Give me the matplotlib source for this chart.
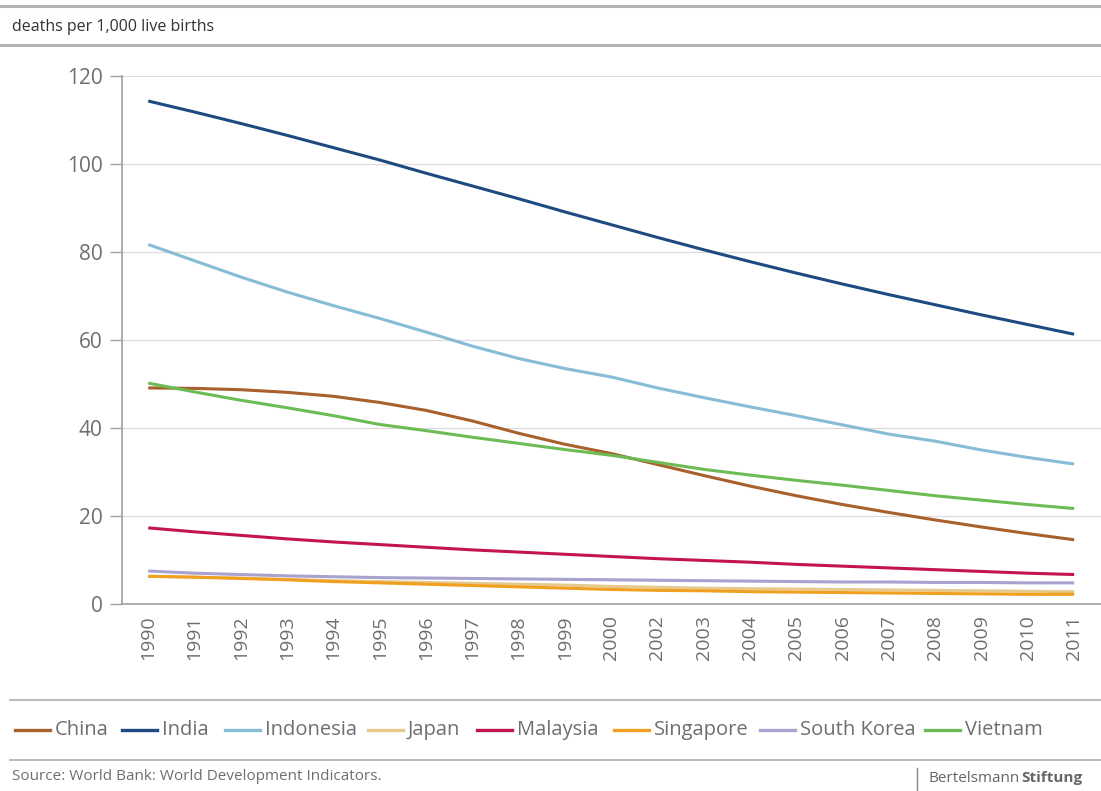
import matplotlib
matplotlib.use("Agg")
import matplotlib.pyplot as plt
from matplotlib.lines import Line2D

plt.rcParams['font.family'] = ['Open Sans', 'DejaVu Sans']

years = ["1990", "1991", "1992", "1993", "1994", "1995", "1996", "1997", "1998", "1999",
         "2000", "2002", "2003", "2004", "2005", "2006", "2007", "2008", "2009", "2010", "2011"]

china = [49.1, 49.0, 48.7, 48.1, 47.2, 45.8, 44.0, 41.6, 38.8, 36.3, 34.2,
         31.7, 29.2, 26.8, 24.6, 22.6, 20.8, 19.1, 17.5, 16.0, 14.6]
india = [114.3, 111.8, 109.2, 106.5, 103.7, 100.9, 97.9, 95.0, 92.1, 89.1, 86.2,
         83.3, 80.5, 77.8, 75.2, 72.7, 70.3, 68.0, 65.7, 63.5, 61.3]
indonesia = [81.7, 78.0, 74.3, 70.9, 67.8, 64.9, 61.8, 58.6, 55.8, 53.5, 51.6,
             49.1, 46.9, 44.8, 42.8, 40.7, 38.6, 37.0, 35.0, 33.3, 31.8]
japan = [6.3, 6.1, 5.9, 5.6, 5.3, 5.1, 4.9, 4.7, 4.5, 4.3, 4.0,
         3.8, 3.6, 3.5, 3.4, 3.3, 3.2, 3.1, 3.0, 2.9, 2.8]
malaysia = [17.3, 16.4, 15.6, 14.8, 14.1, 13.5, 12.9, 12.3, 11.8, 11.3, 10.8,
            10.3, 9.9, 9.5, 9.0, 8.6, 8.2, 7.8, 7.4, 7.0, 6.7]
singapore = [6.3, 6.1, 5.8, 5.5, 5.1, 4.8, 4.5, 4.2, 3.9, 3.6, 3.3,
             3.1, 3.0, 2.8, 2.7, 2.6, 2.5, 2.4, 2.3, 2.2, 2.2]
south_korea = [7.5, 7.0, 6.7, 6.4, 6.2, 6.0, 5.9, 5.8, 5.7, 5.6, 5.5,
               5.4, 5.3, 5.2, 5.1, 5.0, 5.0, 4.9, 4.9, 4.8, 4.8]
vietnam = [50.2, 48.2, 46.3, 44.6, 42.8, 40.8, 39.4, 37.9, 36.5, 35.1, 33.8,
           32.2, 30.6, 29.3, 28.1, 27.0, 25.8, 24.6, 23.6, 22.6, 21.7]

names = ["China", "India", "Indonesia", "Japan", "Malaysia", "Singapore", "South Korea", "Vietnam"]
series = [china, india, indonesia, japan, malaysia, singapore, south_korea, vietnam]
colors = ["#a8602c", "#1d4a80", "#86bcd6", "#e6c98c", "#c2144f", "#f0a01e", "#a8a2cf", "#6dbb55"]

y_ticks = [0, 20, 40, 60, 80, 100, 120]

grey_text = "#6e6e6e"
rule = "#a0a0a0"

fig = plt.figure(figsize=(11.01, 7.91), dpi=100)
ax = fig.add_axes([0.111, 0.2364, 0.889, 0.6676])

x = list(range(len(years)))
# draw the light lines underneath so the darker ones stay visible
order = [3, 5, 6, 4, 0, 7, 2, 1]
for i in order:
    ax.plot(x, series[i], color=colors[i], lw=2.2, solid_capstyle='butt', zorder=3)

ax.set_xlim(-0.562, len(years) - 1 + 0.58)
ax.set_ylim(0, 120)
ax.set_yticks(y_ticks)
ax.set_yticklabels([str(v) for v in y_ticks], fontsize=15, color=grey_text)
ax.set_xticks(x)
ax.set_xticklabels(years, rotation=90, fontsize=14, color=grey_text)
ax.tick_params(axis='x', length=0, pad=8)
ax.tick_params(axis='y', length=9, width=1, color=rule, pad=5)
ax.grid(axis='y', color="#dcdcdc", lw=0.9, zorder=0)
for side in ["top", "right"]:
    ax.spines[side].set_visible(False)
ax.spines["left"].set_color(rule)
ax.spines["bottom"].set_color(rule)
ax.spines["left"].set_linewidth(1.2)
ax.spines["bottom"].set_linewidth(1.2)

W, H = 1101, 791

def hline(ypix, x0, x1, lw, color):
    fig.add_artist(Line2D([x0 / W, x1 / W], [1 - ypix / H, 1 - ypix / H],
                          color=color, lw=lw, transform=fig.transFigure))

# header rules and unit label
hline(6, 0, W, 2.2, "#b5b5b5")
hline(45, 0, W, 2.2, "#b5b5b5")
fig.text(12 / W, 1 - 27 / H, "deaths per 1,000 live births", fontsize=11.5,
         color="#333333", va='center', ha='left')

# legend band
hline(700, 10, W, 1.3, "#b5b5b5")
hline(760, 10, W, 1.3, "#b5b5b5")
legend_x = [15, 122, 225, 368, 477, 614, 760, 925]
ly = 1 - 730 / H
for name, col, lx in zip(names, colors, legend_x):
    fig.add_artist(Line2D([lx / W, (lx + 35) / W], [ly, ly], color=col, lw=2.4,
                          transform=fig.transFigure))
    fig.text((lx + 40) / W, ly, name, fontsize=14.5, color=grey_text,
             va='center', ha='left')

fig.text(12 / W, 1 - 777 / H, "Source: World Bank: World Development Indicators.",
         fontsize=11, color=grey_text, va='center', ha='left')
fig.add_artist(Line2D([917 / W, 917 / W], [1 - 768 / H, 1 - 790 / H], color="#888888",
                      lw=1, transform=fig.transFigure))
t1 = fig.text(928 / W, 1 - 778 / H, "Bertelsmann", fontsize=11, color="#666666",
              va='center', ha='left')
renderer = fig.canvas.get_renderer()
bb = t1.get_window_extent(renderer=renderer)
fig.text((bb.x1 + 2) / W, 1 - 778 / H, "Stiftung", fontsize=11, color="#666666",
         va='center', ha='left', fontweight='bold')

fig.savefig("out.png", dpi=100)
